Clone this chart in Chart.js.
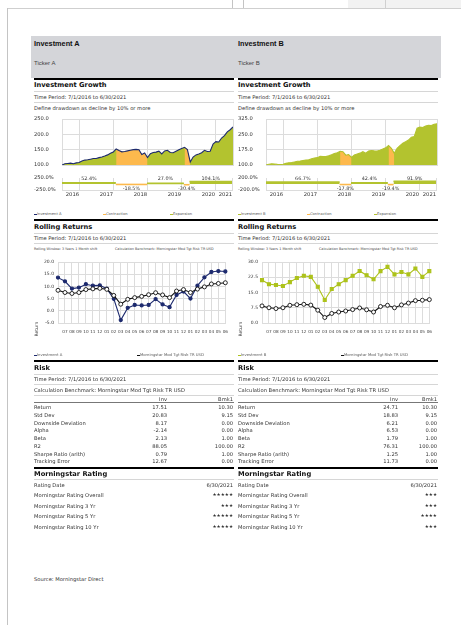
<!DOCTYPE html>
<html>
<head>
<meta charset="utf-8">
<script src="https://cdn.jsdelivr.net/npm/chart.js@4.4.0/dist/chart.umd.min.js"></script>
<style>
  html, body { margin: 0; padding: 0; background: #fff; }
  #page { position: relative; width: 461px; height: 625px; overflow: hidden;
          font-family: "DejaVu Sans", Verdana, sans-serif; color: #333; }
  .t { position: absolute; white-space: nowrap; line-height: 8px; height: 8px; }
  .r { position: absolute; }
  canvas { position: absolute; }
</style>
</head>
<body>
<div id="page"></div>
<script>
// ── data ─────────────────────────────────────────────────────────────────────
// growth of 100, month ends Jun 2016 .. Jun 2021 (index = months since start)
const growthA = [100,104,105,106,104,107,108,113,116,117,119,121,121,124,126,129,133,138,142,152.4,
  147,143,144,146,148,150,151,150,134,139,124.2,137,141,142,145,136,146,148,141,140,
  145,150,154,157.7,150,109.8,126,133,136,140,148,144,145,168,176,175,188,196,208,215,224.1];
const growthB = [100,104,106,105,103,102,104,108,111,112,115,118,119,122,124,126,131,134,136,142,
  141,141,145,150,156,160,166.7,165,148,151,137.0,149,154,158,165,158,168,171,169,168,
  172,178,184,195.1,182,157.3,182,195,206,214,222,236,239,280,285,283,291,294,293,299,301.8];

// expansion / contraction phases (month index from, to, return %)
const phaseStartA = [0, 19, 30, 43, 45];
const phaseEndA   = [19, 30, 43, 45, 60];
const phaseRetA   = [52.4, -18.5, 27.0, -30.4, 104.1];
const phaseStartB = [0, 26, 30, 43, 45];
const phaseEndB   = [26, 30, 43, 45, 60];
const phaseRetB   = [66.7, -17.8, 42.4, -19.4, 91.9];

const yearTicks  = [0, 6, 18, 30, 42, 54, 60];
const yearLabels = ['', '2016', '2017', '2018', '2019', '2020', '2021'];

// rolling 3 yr returns, Jun 2019 .. Jun 2021
const rollMonths = ['', '07','08','09','10','11','12','01','02','03','04','05','06',
                    '07','08','09','10','11','12','01','02','03','04','05','06'];
const rollYears  = ['', '', '', '', '', '', '', '2020', '', '', '', '', '',
                    '', '', '', '', '', '', '2021', '', '', '', '', ''];
const rollA     = [13.6,12.1,9.1,9.5,10.9,10.3,10.4,9.1,4.9,-3.8,1.2,2.4,2.2,2.4,4.8,2.6,1.5,6.5,7.9,5.0,10.3,13.7,15.9,16.3,16.1];
const rollB     = [21.1,19.1,18.7,18.2,20.1,22.1,23.2,22.7,17.8,11.3,16.7,19.1,21.1,23.2,25.6,23.5,21.5,25.5,27.6,23.9,25.1,23.9,26.8,22.7,25.5];
const rollBench = [8.4,7.5,7.1,7.5,8.7,9.0,9.2,8.8,6.3,2.7,4.7,5.4,5.9,6.6,7.4,6.5,5.4,8.1,8.7,7.5,8.9,9.8,11.0,11.2,11.5];

const riskRows = ['Return', 'Std Dev', 'Downside Deviation', 'Alpha', 'Beta', 'R2', 'Sharpe Ratio (arith)', 'Tracking Error'];
const riskInvA = ['17.51', '20.83', '8.17', '-2.14', '2.13', '88.05', '0.79', '12.67'];
const riskInvB = ['24.71', '18.83', '6.21', '6.53', '1.79', '76.31', '1.25', '11.73'];
const riskBmk  = ['10.30', '9.15', '0.00', '0.00', '1.00', '100.00', '1.00', '0.00'];

const ratingRows = ['Rating Date', 'Morningstar Rating Overall', 'Morningstar Rating 3 Yr', 'Morningstar Rating 5 Yr', 'Morningstar Rating 10 Yr'];
const ratingA = ['6/30/2021', '★★★★★', '★★★', '★★★★★', '★★★★★'];
const ratingB = ['6/30/2021', '★★★', '★★★', '★★★★', '★★★'];

// ── styles ───────────────────────────────────────────────────────────────────
const GREEN = '#b3c32f', ORANGE = '#fdb94d', NAVY = '#1d2a6e', LIME = '#adc21b', GRID = '#dcdcdc';
const FONT = '"DejaVu Sans", Verdana, sans-serif';
Chart.defaults.font.family = FONT;
Chart.defaults.color = '#333';

const page = document.getElementById('page');

function box(x, y, w, h, bg) {
  const d = document.createElement('div');
  d.className = 'r';
  Object.assign(d.style, { left: x + 'px', top: y + 'px', width: w + 'px', height: h + 'px', background: bg });
  page.appendChild(d);
  return d;
}

function txt(x, yc, s, size, o = {}) {
  const d = document.createElement('div');
  d.className = 't';
  d.textContent = s;
  d.style.fontSize = size + 'px';
  d.style.top = (yc - 4) + 'px';
  if (o.right) { d.style.left = (x - 200) + 'px'; d.style.width = '200px'; d.style.textAlign = 'right'; }
  else d.style.left = x + 'px';
  if (o.bold) d.style.fontWeight = 'bold';
  if (o.color) d.style.color = o.color;
  if (o.font) d.style.fontFamily = o.font;
  page.appendChild(d);
  return d;
}

function canvasAt(x, y, w, h) {
  const c = document.createElement('canvas');
  c.width = w; c.height = h;
  c.style.left = x + 'px'; c.style.top = y + 'px';
  c.style.width = w + 'px'; c.style.height = h + 'px';
  page.appendChild(c);
  return c;
}

const baseOpts = {
  responsive: false, animation: false, devicePixelRatio: 1,
  plugins: { legend: { display: false }, tooltip: { enabled: false } }
};

// ── charts ───────────────────────────────────────────────────────────────────
function growthChart(cx, vals, ph, yMin, yMax, yStep, lineColor) {
  const pts = vals.map((v, i) => ({ x: i, y: v }));
  const sets = [{ data: pts, fill: 'start', backgroundColor: GREEN, borderWidth: 0, pointRadius: 0, order: 3 }];
  ph.start.forEach((s, k) => {
    if (ph.ret[k] >= 0) return;
    sets.push({ data: pts.slice(s, ph.end[k] + 1), fill: 'start', backgroundColor: ORANGE,
                borderWidth: 0, pointRadius: 0, order: 2 });
  });
  sets.push({ data: pts, fill: false, borderColor: lineColor, borderWidth: 1.1, pointRadius: 0, order: 1 });

  new Chart(canvasAt(cx, 113, 200, 56), {
    type: 'line',
    data: { datasets: sets },
    options: {
      ...baseOpts,
      layout: { padding: { top: 6, bottom: 4, left: 0, right: 1 } },
      scales: {
        x: { type: 'linear', min: 0, max: 60,
             afterBuildTicks: s => { s.ticks = yearTicks.map(v => ({ value: v })); },
             ticks: { display: false }, grid: { color: GRID, drawTicks: false }, border: { color: GRID },
             afterFit: s => { s.height = 0; } },
        y: { min: yMin, max: yMax,
             ticks: { stepSize: yStep, callback: v => v.toFixed(1), font: { size: 5.2 }, color: '#333',
                      crossAlign: 'far', padding: 0 },
             grid: { color: GRID, drawTicks: false }, border: { color: GRID },
             afterFit: s => { s.width = 28; } }
      }
    }
  });
}

function drawdownChart(cx, ph, lim) {
  const sets = ph.start.map((s, k) => {
    const c = ph.ret[k] >= 0 ? GREEN : ORANGE;
    return { data: [{ x: s, y: ph.ret[k] }, { x: ph.end[k], y: ph.ret[k] }], fill: 'origin',
             backgroundColor: c, borderColor: c, borderWidth: 1.6, pointRadius: 0 };
  });
  new Chart(canvasAt(cx, 174, 200, 26), {
    type: 'line',
    data: { datasets: sets },
    options: {
      ...baseOpts,
      layout: { padding: { top: 4, bottom: 0, left: 0, right: 1 } },
      scales: {
        x: { type: 'linear', min: 0, max: 60,
             afterBuildTicks: s => { s.ticks = yearTicks.map(v => ({ value: v })); },
             ticks: { callback: (v, i) => yearLabels[i], align: 'end', font: { size: 5.2 }, color: '#333',
                      padding: 2, maxRotation: 0, autoSkip: false },
             grid: { color: GRID, drawTicks: false }, border: { color: GRID },
             afterFit: s => { s.height = 10; } },
        y: { min: -lim, max: lim,
             ticks: { stepSize: lim, callback: v => v.toFixed(1) + '%', font: { size: 5.2 }, color: '#333',
                      crossAlign: 'far', padding: 0 },
             grid: { display: false }, border: { color: GRID },
             afterFit: s => { s.width = 28; } }
      }
    },
    plugins: [{
      id: 'phaseLabels',
      afterDatasetsDraw(chart) {
        const { ctx, scales: { x, y } } = chart;
        ctx.save();
        ctx.font = '4.9px ' + FONT;
        ctx.fillStyle = '#333';
        ctx.textAlign = 'center';
        ctx.textBaseline = 'middle';
        ph.start.forEach((s, k) => {
          const px = (x.getPixelForValue(s) + x.getPixelForValue(ph.end[k])) / 2;
          const r = ph.ret[k];
          ctx.fillText(r.toFixed(1) + '%', px, r >= 0 ? y.top + 1.2 : y.bottom - 1.5);
        });
        ctx.restore();
      }
    }]
  });
}

function rollingChart(cx, inv, invColor, invPoint, yMin, yMax, yStep) {
  new Chart(canvasAt(cx, 255, 200, 92), {
    type: 'line',
    data: {
      labels: rollMonths,
      datasets: [
        { data: rollBench, borderColor: '#111', borderWidth: 1.1, pointRadius: 2, pointStyle: 'circle',
          pointBackgroundColor: '#fff', pointBorderColor: '#111', pointBorderWidth: 0.9, order: 1 },
        { data: inv, borderColor: invColor, borderWidth: 1.1, pointRadius: invPoint === 'rect' ? 2.1 : 1.6,
          pointStyle: invPoint, pointBackgroundColor: invColor, pointBorderColor: invColor, order: 2 }
      ]
    },
    options: {
      ...baseOpts,
      layout: { padding: { top: 7, bottom: 2, left: 0, right: 1 } },
      scales: {
        x: { type: 'category', grid: { color: GRID, drawTicks: false }, border: { color: GRID },
             ticks: { font: { size: 4.2 }, color: '#444', padding: 6, maxRotation: 0, autoSkip: false },
             afterFit: s => { s.height = 10; } },
        x2: { type: 'category', position: 'bottom', grid: { display: false }, border: { display: false },
              ticks: { callback: (v, i) => rollYears[i], font: { size: 4.2 }, color: '#444', padding: 6,
                       maxRotation: 0, autoSkip: false },
              afterFit: s => { s.height = 12; } },
        y: { min: yMin, max: yMax,
             ticks: { stepSize: yStep, callback: v => v.toFixed(1), font: { size: 4.5 }, color: '#333', padding: 4 },
             grid: { color: GRID, drawTicks: false }, border: { color: GRID },
             afterFit: s => { s.width = 24; } }
      }
    }
  });
}

// ── page frame ───────────────────────────────────────────────────────────────
box(348, 0, 113, 8, '#f2f2f2');
box(385, 0, 1, 8, '#d0d0d0');
box(232, 0, 1, 8, '#c4c4c4');
box(243, 0, 1, 8, '#c4c4c4');
box(7, 8, 454, 1, '#cfcfcf');
box(7, 8, 1, 617, '#c4c4c4');

box(31, 36, 410, 42, '#d4d5d9');

const cols = [
  { x: 34, name: 'Investment A', ticker: 'Ticker A', growth: growthA, lineColor: NAVY,
    ph: { start: phaseStartA, end: phaseEndA, ret: phaseRetA }, gMax: 250, gStep: 50, dd: 250,
    roll: rollA, rollColor: NAVY, rollPoint: 'circle', rMin: -5, rMax: 20, rStep: 5,
    risk: riskInvA, invRight: 167, rating: ratingA },
  { x: 238, name: 'Investment B', ticker: 'Ticker B', growth: growthB, lineColor: GREEN,
    ph: { start: phaseStartB, end: phaseEndB, ret: phaseRetB }, gMax: 325, gStep: 75, dd: 200,
    roll: rollB, rollColor: LIME, rollPoint: 'rect', rMin: 0, rMax: 30, rStep: 7.5,
    risk: riskInvB, invRight: 398, rating: ratingB }
];

cols.forEach(c => {
  const x = c.x, right = x + 199;
  const TP = 'Time Period: 7/1/2016 to 6/30/2021';

  txt(x, 44, c.name, 7.3, { bold: true, color: '#111', font: '"Liberation Sans", Arial, sans-serif' });
  txt(x, 63, c.ticker, 6, { color: '#444', font: '"Liberation Sans", Arial, sans-serif' });

  // investment growth
  box(x, 78, 200, 2, '#000');
  txt(x, 85, 'Investment Growth', 6.7, { bold: true, color: '#111' });
  box(x, 91, 200, 1, '#d6d6d6');
  txt(x, 97, TP, 5.2);
  box(x, 102, 200, 1, '#d6d6d6');
  txt(x, 108, 'Define drawdown as decline by 10% or more', 5.2);
  growthChart(x, c.growth, c.ph, 100, c.gMax, c.gStep, c.lineColor);
  drawdownChart(x, c.ph, c.dd);

  const leg = [[x, c.lineColor, c.name], [x + 69, ORANGE, 'Contraction'], [x + 136, GREEN, 'Expansion']];
  leg.forEach(([lx, col, s]) => { box(lx, 213.5, 3, 1, col); txt(lx + 3, 214, s, 3.7, { color: '#555' }); });

  // rolling returns
  box(x, 219, 200, 2, '#000');
  txt(x, 227, 'Rolling Returns', 6.7, { bold: true, color: '#111' });
  box(x, 233, 200, 1, '#d6d6d6');
  txt(x, 238, TP, 5.2);
  box(x, 243, 200, 1, '#d6d6d6');
  txt(x, 248.5, 'Rolling Window: 3 Years 1 Month shift', 3.4, { color: '#444' });
  txt(x + 81, 248.5, 'Calculation Benchmark: Morningstar Mod Tgt Risk TR USD', 3.4, { color: '#444' });
  rollingChart(x, c.roll, c.rollColor, c.rollPoint, c.rMin, c.rMax, c.rStep);
  const rt = txt(x - 9, 329, 'Return', 4.5, { color: '#444' });
  rt.style.transform = 'rotate(-90deg)';
  rt.style.width = '28px'; rt.style.textAlign = 'center'; rt.style.left = (x + 3 - 14) + 'px';
  box(x, 354.5, 3, 1, c.rollColor); txt(x + 3, 355, c.name, 3.8, { color: '#555' });
  box(x + 103, 354.5, 3, 1, '#111'); txt(x + 106, 355, 'Morningstar Mod Tgt Risk TR USD', 3.8, { color: '#555' });

  // risk
  box(x, 360, 200, 2, '#000');
  txt(x, 368, 'Risk', 6.7, { bold: true, color: '#111' });
  box(x, 374, 200, 1, '#d6d6d6');
  txt(x, 379.3, TP, 5.2);
  box(x, 384, 200, 1, '#d6d6d6');
  txt(x, 389.7, 'Calculation Benchmark: Morningstar Mod Tgt Risk TR USD', 5.2);
  box(x, 395, 200, 1, '#d6d6d6');
  txt(c.invRight, 399, 'Inv', 5.2, { right: true });
  txt(right, 399, 'Bmk1', 5.2, { right: true });
  box(x, 401.5, 200, 0.6, '#777');
  riskRows.forEach((lab, k) => {
    const yc = 407.3 + k * 7.7;
    txt(x, yc, lab, 5.2);
    txt(c.invRight, yc, c.risk[k], 5.2, { right: true });
    txt(right, yc, riskBmk[k], 5.2, { right: true });
  });

  // rating
  box(x, 467, 200, 2, '#000');
  txt(x, 474, 'Morningstar Rating', 6.7, { bold: true, color: '#111' });
  box(x, 479, 200, 1, '#d6d6d6');
  ratingRows.forEach((lab, k) => {
    const yc = k === 0 ? 484.7 : 495.3 + (k - 1) * 10.55;
    txt(x, yc, lab, 5.2);
    txt(right, yc, c.rating[k], k === 0 ? 5.2 : 4.6, { right: true });
  });
});

txt(34, 579, 'Source: Morningstar Direct', 5.2);
</script>
</body>
</html>
